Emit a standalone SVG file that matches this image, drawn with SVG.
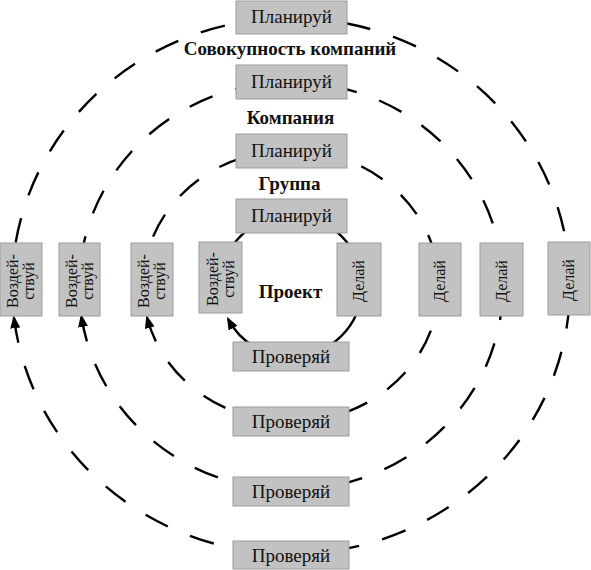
<svg xmlns="http://www.w3.org/2000/svg" width="591" height="570" viewBox="0 0 591 570">
<style>
.bg{fill:#fff}
.box{fill:#c2c2c2;stroke:#9c9c9c;stroke-width:1}
.t{font-family:"Liberation Serif","Times New Roman",serif;font-size:19px;fill:#111;text-anchor:middle}
.tv{font-family:"Liberation Serif","Times New Roman",serif;font-size:16px;fill:#111;text-anchor:middle}
.lbl{font-family:"Liberation Serif","Times New Roman",serif;font-size:19px;font-weight:bold;fill:#111;text-anchor:middle}
.ring{fill:none;stroke:#000;stroke-width:2.4}
.dash{stroke-dasharray:25 24}
</style>
<defs>
<marker id="ah" markerUnits="userSpaceOnUse" markerWidth="14" markerHeight="12" refX="10" refY="5" orient="auto-start-reverse">
<path d="M0,0 L13,5 L0,10 z" fill="#000"/>
</marker>
</defs>
<rect class="bg" x="0" y="0" width="591" height="570"/>
<g id="connectors">
<path id="ring4" class="ring dash" marker-start="url(#ah)" d="M14.02,318.2 A279,268 0 0 0 291,554 A279,268 0 0 0 570,286 A279,268 0 0 0 291,18 A279,268 0 0 0 12,286"/>
<path id="ring3" class="ring dash" marker-start="url(#ah)" d="M81.46,317 A212,204 0 0 0 291,490 A212,204 0 0 0 503,286 A212,204 0 0 0 291,82 A212,204 0 0 0 79,286"/>
<path id="ring2" class="ring dash" marker-start="url(#ah)" d="M147.2,318 A148,136 0 0 0 291,422 A148,136 0 0 0 439,286 A148,136 0 0 0 291,150 A148,136 0 0 0 143,286"/>
<path id="ring1" class="ring" marker-start="url(#ah)" d="M228.31,319.33 A71,71 0 0 0 291,357 A71,71 0 0 0 362,286 A71,71 0 0 0 291,215 A71,71 0 0 0 220,286"/>
</g>
<g id="plan4"><rect class="box" x="236" y="1" width="111" height="33"/><text class="t" x="291.5" y="23">Планируй</text></g>
<g id="plan3"><rect class="box" x="236" y="65" width="111" height="34"/><text class="t" x="291.5" y="88">Планируй</text></g>
<g id="plan2"><rect class="box" x="236" y="134" width="111" height="34"/><text class="t" x="291.5" y="157">Планируй</text></g>
<g id="plan1"><rect class="box" x="236" y="199" width="111" height="34"/><text class="t" x="291.5" y="222">Планируй</text></g>
<g id="lbl4"><text class="lbl" x="290" y="55">Совокупность компаний</text></g>
<g id="lbl3"><text class="lbl" x="290.5" y="124">Компания</text></g>
<g id="lbl2"><text class="lbl" x="289.5" y="190">Группа</text></g>
<g id="lbl1"><text class="lbl" x="290.5" y="298">Проект</text></g>
<g id="act4"><rect class="box" x="0" y="243" width="42" height="73"/><g transform="translate(21,281) rotate(-90)"><text class="tv" x="0" y="-3">Воздей-</text><text class="tv" x="0" y="13">ствуй</text></g></g>
<g id="act3"><rect class="box" x="59" y="243" width="41" height="73"/><g transform="translate(79.5,281) rotate(-90)"><text class="tv" x="0" y="-3">Воздей-</text><text class="tv" x="0" y="13">ствуй</text></g></g>
<g id="act2"><rect class="box" x="131" y="243" width="42" height="73"/><g transform="translate(152,281) rotate(-90)"><text class="tv" x="0" y="-3">Воздей-</text><text class="tv" x="0" y="13">ствуй</text></g></g>
<g id="act1"><rect class="box" x="199" y="242" width="43" height="71"/><g transform="translate(220.5,279) rotate(-90)"><text class="tv" x="0" y="-3">Воздей-</text><text class="tv" x="0" y="13">ствуй</text></g></g>
<g id="do1"><rect class="box" x="337" y="243" width="44" height="73"/><g transform="translate(359,281) rotate(-90)"><text class="tv" x="0" y="5">Делай</text></g></g>
<g id="do2"><rect class="box" x="419" y="243" width="42" height="73"/><g transform="translate(440,281) rotate(-90)"><text class="tv" x="0" y="5">Делай</text></g></g>
<g id="do3"><rect class="box" x="480" y="243" width="43" height="73"/><g transform="translate(501.5,281) rotate(-90)"><text class="tv" x="0" y="5">Делай</text></g></g>
<g id="do4"><rect class="box" x="548" y="242" width="42" height="73"/><g transform="translate(569,280) rotate(-90)"><text class="tv" x="0" y="5">Делай</text></g></g>
<g id="chk1"><rect class="box" x="233" y="342" width="116" height="29"/><text class="t" x="291" y="363">Проверяй</text></g>
<g id="chk2"><rect class="box" x="233" y="407" width="116" height="29"/><text class="t" x="291" y="428">Проверяй</text></g>
<g id="chk3"><rect class="box" x="233" y="477" width="116" height="29"/><text class="t" x="291" y="498">Проверяй</text></g>
<g id="chk4"><rect class="box" x="233" y="541" width="116" height="28"/><text class="t" x="291" y="562">Проверяй</text></g>
</svg>
